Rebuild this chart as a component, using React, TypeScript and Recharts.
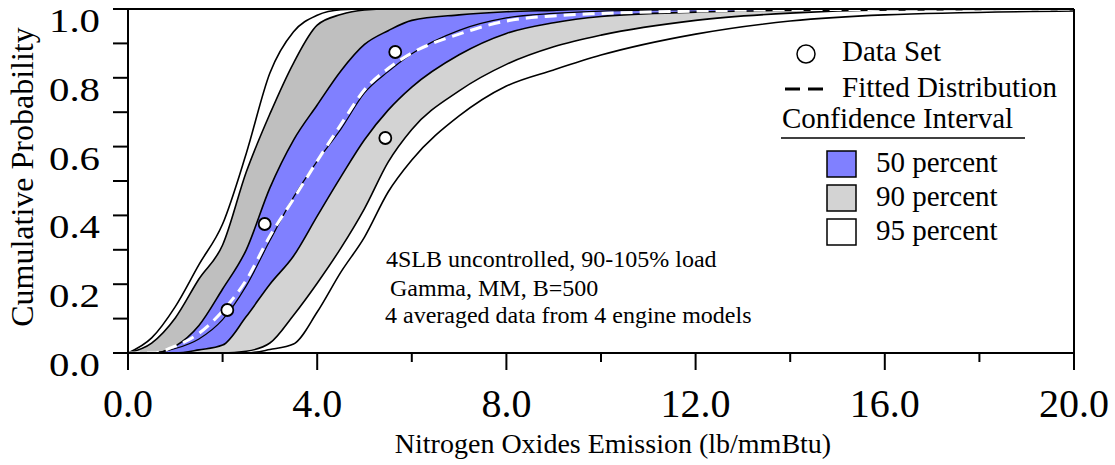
import { ComposedChart, Area, Line, Scatter, XAxis, YAxis, ReferenceLine } from 'recharts';

// x grid (lb/mmBtu) shared by every curve
const xGrid = [0, 0.5, 1, 1.5, 2, 2.5, 3, 3.5, 4, 4.5, 5, 5.5, 6, 7, 8, 9, 10, 12, 14, 16, 20];

// cumulative probability of each band edge
const ci95Left = [0, 0.044, 0.135, 0.257, 0.375, 0.58, 0.814, 0.934, 0.982, 0.998, 1, 1, 1, 1, 1, 1, 1, 1, 1, 1, 1];
const ci90Left = [0, 0.029, 0.102, 0.215, 0.314, 0.526, 0.695, 0.843, 0.953, 0.984, 0.997, 1, 1, 1, 1, 1, 1, 1, 1, 1, 1];
const ci50Left = [0, 0, 0.02, 0.08, 0.186, 0.3, 0.48, 0.619, 0.721, 0.82, 0.897, 0.937, 0.967, 0.983, 0.992, 0.996, 1, 1, 1, 1, 1];
const fitted = [0, 0, 0.02, 0.057, 0.122, 0.212, 0.34, 0.448, 0.558, 0.664, 0.765, 0.827, 0.872, 0.927, 0.965, 0.98, 0.987, 0.994, 0.998, 0.999, 1];
const median = [0, 0, 0.013, 0.041, 0.097, 0.195, 0.327, 0.453, 0.558, 0.651, 0.756, 0.818, 0.87, 0.938, 0.974, 0.987, 0.994, 0.998, 1, 1, 1];
const ci50Right = [0, 0, 0, 0.009, 0.023, 0.106, 0.2, 0.282, 0.398, 0.512, 0.62, 0.706, 0.773, 0.867, 0.929, 0.96, 0.978, 0.991, 0.996, 0.998, 1];
const ci90Right = [0, 0, 0, 0, 0, 0.005, 0.029, 0.11, 0.203, 0.305, 0.42, 0.555, 0.65, 0.762, 0.839, 0.89, 0.924, 0.967, 0.988, 0.997, 1];
const ci95Right = [0, 0, 0, 0, 0, 0, 0.01, 0.026, 0.119, 0.235, 0.337, 0.468, 0.561, 0.689, 0.776, 0.823, 0.866, 0.927, 0.965, 0.983, 0.994];

// data set (4 averaged values)
const dataX = [2.1, 2.89, 5.44, 5.65];
const dataY = [0.125, 0.375, 0.625, 0.875];

const xTicks = [0, 2, 4, 6, 8, 10, 12, 14, 16, 18, 20];
const yTicks = [0, 0.1, 0.2, 0.3, 0.4, 0.5, 0.6, 0.7, 0.8, 0.9, 1];

const FONT = '"Liberation Serif", "Times New Roman", serif';
const BLUE = '#8080ff';
const DARK_GRAY = '#bfbfbf';
const LIGHT_GRAY = '#d3d3d3';

const rows = xGrid.map((x, i) => ({
  x,
  ci95Left: ci95Left[i],
  ci90Left: ci90Left[i],
  ci50Left: ci50Left[i],
  fitted: fitted[i],
  median: median[i],
  ci50Right: ci50Right[i],
  ci90Right: ci90Right[i],
  ci95Right: ci95Right[i],
  darkBand: [ci50Left[i], ci90Left[i]],
  blueBand: [ci50Right[i], ci50Left[i]],
  lightBand: [ci90Right[i], ci50Right[i]],
}));

const points = dataX.map((x, i) => ({ x, y: dataY[i] }));

const XTick = ({ x, y, payload }: any) => {
  const v = payload.value;
  const major = v % 4 === 0;
  return (
    <g>
      <line x1={x} x2={x} y1={y} y2={y + (major ? 17 : 9)} stroke="#000" strokeWidth={2} />
      {major && (
        <text x={x} y={y + 64} textAnchor="middle" fontSize={40} fontFamily={FONT} fill="#000">
          {v.toFixed(1)}
        </text>
      )}
    </g>
  );
};

const YTick = ({ x, y, payload }: any) => {
  const v = payload.value;
  if (Math.round(v * 10) % 2 !== 0) return <g />;
  return (
    <text
      transform={`translate(${x - 13},${y + 23}) scale(1.2,1)`}
      textAnchor="end"
      fontSize={34}
      fontFamily={FONT}
      fill="#000"
    >
      {v.toFixed(1)}
    </text>
  );
};

const DataDot = ({ cx, cy }: any) => (
  <circle cx={cx} cy={cy} r={6} fill="#fff" stroke="#000" strokeWidth={1.8} />
);

const edge = { stroke: '#000', strokeWidth: 1.6, dot: false, activeDot: false, isAnimationActive: false, type: 'monotone' as const };

export default function App() {
  return (
    <div style={{ position: 'absolute', left: 0, top: 0, width: 1115, height: 465, background: '#fff' }}>
      <ComposedChart width={1115} height={465} data={rows} margin={{ top: 9, right: 41, bottom: 0, left: 0 }}>
        <XAxis
          dataKey="x"
          type="number"
          domain={[0, 20]}
          ticks={xTicks}
          height={112}
          tickSize={0}
          tickMargin={0}
          tickLine={false}
          axisLine={{ stroke: '#000', strokeWidth: 2 }}
          tick={<XTick />}
          interval={0}
        />
        <YAxis
          type="number"
          domain={[0, 1]}
          ticks={yTicks}
          width={128}
          tickSize={15}
          tickMargin={0}
          tickLine={{ stroke: '#000', strokeWidth: 2 }}
          axisLine={{ stroke: '#000', strokeWidth: 2 }}
          tick={<YTick />}
          interval={0}
        />

        <Area type="monotone" dataKey="darkBand" fill={DARK_GRAY} fillOpacity={1} stroke="none" isAnimationActive={false} activeDot={false} />
        <Area type="monotone" dataKey="blueBand" fill={BLUE} fillOpacity={1} stroke="none" isAnimationActive={false} activeDot={false} />
        <Area type="monotone" dataKey="lightBand" fill={LIGHT_GRAY} fillOpacity={1} stroke="none" isAnimationActive={false} activeDot={false} />

        <Line dataKey="ci95Left" {...edge} />
        <Line dataKey="ci90Left" {...edge} />
        <Line dataKey="ci50Left" {...edge} />
        <Line dataKey="median" {...edge} strokeWidth={1.2} />
        <Line dataKey="ci50Right" {...edge} />
        <Line dataKey="ci90Right" {...edge} />
        <Line dataKey="ci95Right" {...edge} />
        <Line dataKey="fitted" {...edge} stroke="#fff" strokeWidth={3} strokeDasharray="12 7" />

        <ReferenceLine y={1} stroke="#000" strokeWidth={2} />
        <ReferenceLine x={20} stroke="#000" strokeWidth={2} />

        <Scatter data={points} dataKey="y" shape={<DataDot />} isAnimationActive={false} />
      </ComposedChart>

      <svg width={1115} height={465} style={{ position: 'absolute', left: 0, top: 0, pointerEvents: 'none' }} fontFamily={FONT} fill="#000">
        <text transform="translate(33,177) rotate(-90)" textAnchor="middle" fontSize={32}>Cumulative Probability</text>
        <text x={613} y={453} textAnchor="middle" fontSize={28}>Nitrogen Oxides Emission (lb/mmBtu)</text>

        <text x={386} y={267} fontSize={24}>4SLB uncontrolled, 90-105% load</text>
        <text x={390} y={296} fontSize={24}>Gamma, MM, B=500</text>
        <text x={385} y={323} fontSize={24}>4 averaged data from 4 engine models</text>

        <circle cx={806} cy={54} r={9} fill="#fff" stroke="#000" strokeWidth={1.5} />
        <text x={842} y={61} fontSize={29}>Data Set</text>
        <line x1={785} x2={823} y1={89} y2={89} stroke="#000" strokeWidth={3} strokeDasharray="15 8" />
        <text x={842} y={97} fontSize={29}>Fitted Distribution</text>
        <text x={782} y={128} fontSize={29}>Confidence Interval</text>
        <line x1={781} x2={1025} y1={138} y2={138} stroke="#000" strokeWidth={1.5} />
        <rect x={827} y={151} width={29} height={26} fill={BLUE} stroke="#000" strokeWidth={1.5} />
        <text x={876} y={172} fontSize={29}>50 percent</text>
        <rect x={827} y={185} width={29} height={26} fill={LIGHT_GRAY} stroke="#000" strokeWidth={1.5} />
        <text x={876} y={206} fontSize={29}>90 percent</text>
        <rect x={827} y={219} width={29} height={26} fill="#fff" stroke="#000" strokeWidth={1.5} />
        <text x={876} y={240} fontSize={29}>95 percent</text>
      </svg>
    </div>
  );
}
